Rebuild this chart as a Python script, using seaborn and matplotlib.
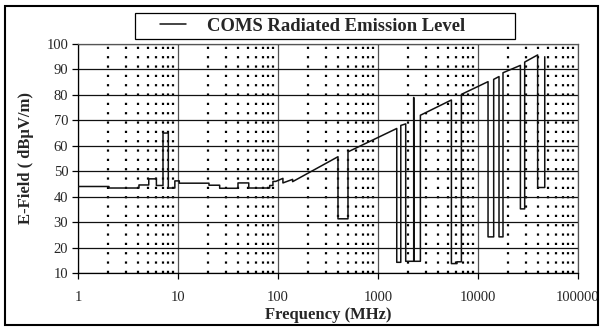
import numpy as np
import pandas as pd
import matplotlib
matplotlib.use("Agg")
import matplotlib.pyplot as plt
import seaborn as sns
from matplotlib.patches import Rectangle
from matplotlib.lines import Line2D
from matplotlib.legend_handler import HandlerLine2D

# ---- data ----
freq_mhz = [1, 2.04, 2.04, 4.07, 4.07, 5.1, 5.1, 6.08, 6.08, 7.08, 7.08, 8.0, 8.0, 9.3, 9.3,
            10.3, 10.3, 20.4, 20.4, 26.1, 26.1, 39.8, 39.8, 51, 51, 82.6, 82.6, 89, 89, 95,
            112, 112, 140, 140, 398, 398, 501, 501, 1540, 1540, 1690, 1690, 1893, 1893,
            2275, 2275, 2290, 2654, 2654, 5420, 5420, 6166, 6166, 6823, 6823, 12600, 12600,
            14350, 14350, 16220, 16220, 17780, 17780, 26550, 26550, 29300, 29300, 39500,
            39500, 46500, 46500]
level_dbuv = [44.0, 44.0, 43.4, 43.4, 44.6, 44.6, 47.0, 47.0, 44.4, 44.4, 65.0, 65.0, 43.4, 43.4, 46.2,
              46.2, 45.3, 45.3, 44.5, 44.5, 43.3, 43.3, 45.4, 45.4, 43.4, 43.4, 44.4, 44.4, 46.0, 46.0,
              47.2, 45.4, 46.8, 45.9, 55.7, 31.3, 31.3, 57.6, 66.8, 14.2, 14.2, 68.0, 68.6, 14.6,
              14.6, 79.0, 14.6, 14.6, 72.0, 78.0, 13.7, 13.7, 14.4, 14.4, 80.2, 85.2, 24.2,
              24.2, 86.1, 87.2, 24.2, 24.2, 88.7, 91.6, 35.2, 35.2, 92.9, 95.7,
              43.6, 43.6, 95.0]
series_name = "COMS Radiated Emission Level"
x_ticks = [1, 10, 100, 1000, 10000, 100000]
x_tick_labels = ["1", "10", "100", "1000", "10000", "100000"]
y_ticks = [10, 20, 30, 40, 50, 60, 70, 80, 90, 100]

df = pd.DataFrame({"freq": freq_mhz, "level": level_dbuv, "series": series_name})

sns.set_theme(style="white")
plt.rcParams["font.family"] = ["Liberation Serif", "DejaVu Serif"]

fig = plt.figure(figsize=(6.04, 3.31), dpi=100)
ax = fig.add_axes([78 / 604, 1 - 273 / 331, 500 / 604, 229 / 331])

sns.lineplot(data=df, x="freq", y="level", sort=False, estimator=None,
             color="#111111", linewidth=1.1, ax=ax, legend=False, zorder=5)

ax.set_xscale("log")
ax.set_xlim(1, 100000)
ax.set_ylim(10, 100)
ax.set_xticks(x_ticks)
ax.set_xticklabels(x_tick_labels)
ax.set_xticks([m * d for d in [1, 10, 100, 1000, 10000] for m in range(2, 10)], minor=True)
ax.set_yticks(y_ticks)
ax.set_yticklabels([str(v) for v in y_ticks])

ax.grid(which="major", axis="y", color="#111111", linewidth=0.9, linestyle="-")
ax.grid(which="major", axis="x", color="#555555", linewidth=0.9, linestyle="-")
ax.grid(which="minor", axis="x", color="black", linewidth=1.6, linestyle=(0, (1, 3.2)))
ax.set_axisbelow(True)

ax.tick_params(axis="both", which="major", direction="out", length=4, width=0.9,
               color="black", labelsize=10.5, pad=3, left=True, bottom=True)
ax.tick_params(axis="x", which="minor", length=0)
ax.tick_params(axis="x", which="major", pad=9)
for s in ax.spines.values():
    s.set_color("#555555")
    s.set_linewidth(0.9)
ax.spines["left"].set_color("black")
ax.spines["bottom"].set_color("black")

ax.set_xlabel("Frequency (MHz)", fontsize=12, fontweight="bold", labelpad=2)
ax.set_ylabel("E-Field ( dB\u03bcV/m)", fontsize=12, fontweight="bold", labelpad=9)


class ShortLineHandler(HandlerLine2D):
    def create_artists(self, legend, orig_handle, xdescent, ydescent, width, height, fontsize, trans):
        arts = super().create_artists(legend, orig_handle, xdescent, ydescent, width, height, fontsize, trans)
        for a in arts:
            xd = np.asarray(a.get_xdata(), dtype=float)
            if len(xd) >= 2:
                x0, x1 = xd[0], xd[-1]
                a.set_xdata(np.linspace(x0 + 0.36 * (x1 - x0), x0 + 0.83 * (x1 - x0), len(xd)))
        return arts


handle = Line2D([], [], color="#111111", linewidth=1.1)
leg = fig.legend([handle], [series_name], loc="center left", mode="expand",
                 bbox_to_anchor=(135 / 604, 1 - 40 / 331, 380 / 604, 28 / 331),
                 frameon=True, fancybox=False, edgecolor="black", facecolor="white",
                 framealpha=1, handlelength=3.0, handletextpad=0.6, borderpad=0.25,
                 borderaxespad=0, prop={"family": "Liberation Serif", "weight": "bold", "size": 13.4},
                 handler_map={Line2D: ShortLineHandler()})
leg.get_frame().set_linewidth(0.9)

fig.patches.append(Rectangle((5 / 604, 6 / 331), 593 / 604, 319 / 331, transform=fig.transFigure,
                             fill=False, edgecolor="black", linewidth=1.5))

fig.savefig("out.png", dpi=100)
